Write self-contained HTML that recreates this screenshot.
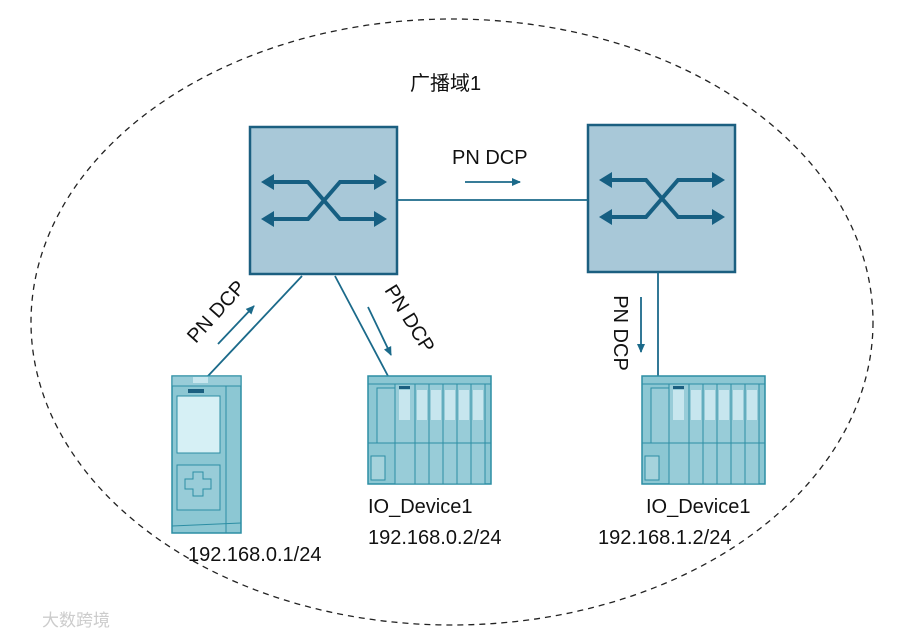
<!DOCTYPE html>
<html><head><meta charset="utf-8"><style>
html,body{margin:0;padding:0;background:#fff;}
svg{display:block;}
text{font-family:"Liberation Sans","Noto Sans CJK SC",sans-serif;fill:#111;}
</style></head><body>
<svg width="900" height="636" viewBox="0 0 900 636" xmlns="http://www.w3.org/2000/svg">
<defs>
<marker id="ah" markerWidth="10" markerHeight="10" refX="8" refY="5" orient="auto" markerUnits="userSpaceOnUse">
<path d="M0,1 L9,5 L0,9 Z" fill="#1b6a8a"/></marker>
<g id="sw">
<rect x="0" y="0" width="147" height="147" fill="#a8c8d8" stroke="#1b5f80" stroke-width="2.5"/>
<g stroke="#165f82" stroke-width="4" fill="none">
<path d="M20,55 L58,55 L90,92 L128,92"/>
<path d="M20,92 L58,92 L90,55 L128,55"/>
</g>
<g fill="#165f82">
<path d="M11,55 L24,47 L24,63Z"/><path d="M11,92 L24,84 L24,100Z"/>
<path d="M137,55 L124,47 L124,63Z"/><path d="M137,92 L124,84 L124,100Z"/>
</g>
</g>
<g id="io">
<rect x="0" y="0" width="123" height="108" fill="#8cc7d3" stroke="#2c8ea4" stroke-width="1.5"/>
<line x1="0" y1="8" x2="123" y2="8" stroke="#2c8ea4"/>
<rect x="9" y="12" width="18" height="55" fill="#98ccd8" stroke="#2c8ea4"/>
<rect x="27" y="8" width="20" height="100" fill="#98ccd8" stroke="#2c8ea4"/>
<rect x="31" y="14" width="11" height="30" fill="#c7e6ee"/>
<rect x="31" y="10" width="11" height="3" fill="#1b5f80"/>
<g stroke="#2c8ea4" fill="#98ccd8">
<rect x="47" y="8" width="14" height="100"/><rect x="61" y="8" width="14" height="100"/>
<rect x="75" y="8" width="14" height="100"/><rect x="89" y="8" width="14" height="100"/>
<rect x="103" y="8" width="14" height="100"/>
</g>
<g fill="#c7e6ee"><rect x="49" y="14" width="10" height="30"/><rect x="63" y="14" width="10" height="30"/><rect x="77" y="14" width="10" height="30"/><rect x="91" y="14" width="10" height="30"/><rect x="105" y="14" width="10" height="30"/></g>
<line x1="0" y1="67" x2="123" y2="67" stroke="#2c8ea4"/>
<rect x="3" y="80" width="14" height="24" fill="#a5d3dc" stroke="#2c8ea4"/>
</g>
</defs>

<ellipse cx="452" cy="322" rx="421" ry="303" fill="none" stroke="#222" stroke-width="1.3" stroke-dasharray="6,5"/>
<text x="410" y="90" font-size="20">广播域1</text>

<use href="#sw" x="250" y="127"/>
<use href="#sw" x="588" y="125"/>

<g stroke="#1b6a8a" stroke-width="1.8">
<line x1="397" y1="200" x2="588" y2="200"/>
<line x1="302" y1="276" x2="208" y2="376"/>
<line x1="335" y1="276" x2="388" y2="376"/>
<line x1="658" y1="272" x2="658" y2="376"/>
<line x1="465" y1="182" x2="520" y2="182" marker-end="url(#ah)"/>
<line x1="218" y1="344" x2="254" y2="306" marker-end="url(#ah)"/>
<line x1="368" y1="307" x2="391" y2="355" marker-end="url(#ah)"/>
<line x1="641" y1="297" x2="641" y2="352" marker-end="url(#ah)"/>
</g>

<text x="452" y="164" font-size="20">PN DCP</text>
<text x="0" y="0" font-size="20" text-anchor="middle" transform="translate(221,316) rotate(-48)">PN DCP</text>
<text x="0" y="0" font-size="20" text-anchor="middle" transform="translate(404,322) rotate(58)">PN DCP</text>
<text x="0" y="0" font-size="20" text-anchor="middle" transform="translate(614,333) rotate(90)">PN DCP</text>

<!-- CPU -->
<g>
<rect x="172" y="376" width="69" height="157" fill="#8cc7d3" stroke="#2c8ea4" stroke-width="1.5"/>
<rect x="172" y="376" width="69" height="10" fill="#98ccd8" stroke="#2c8ea4"/>
<rect x="193" y="377" width="15" height="6" fill="#c7e6ee"/>
<rect x="188" y="389" width="16" height="4" fill="#1b5f80"/>
<rect x="177" y="396" width="43" height="57" fill="#d6f0f5" stroke="#2c8ea4"/>
<line x1="226" y1="386" x2="226" y2="533" stroke="#2c8ea4"/>
<rect x="177" y="465" width="43" height="45" fill="#98ccd8" stroke="#2c8ea4"/>
<path d="M193,472 h10 v7 h8 v10 h-8 v7 h-10 v-7 h-8 v-10 h8z" fill="none" stroke="#2c8ea4"/>
<line x1="172" y1="526" x2="241" y2="523" stroke="#2c8ea4"/>
</g>
<use href="#io" x="368" y="376"/>
<use href="#io" x="642" y="376"/>

<text x="188" y="561" font-size="20">192.168.0.1/24</text>
<text x="368" y="513" font-size="20">IO_Device1</text>
<text x="368" y="544" font-size="20">192.168.0.2/24</text>
<text x="646" y="513" font-size="20">IO_Device1</text>
<text x="598" y="544" font-size="20">192.168.1.2/24</text>

<text x="42" y="626" font-size="17" style="fill:#ccc">大数跨境</text>
</svg>
</body></html>
